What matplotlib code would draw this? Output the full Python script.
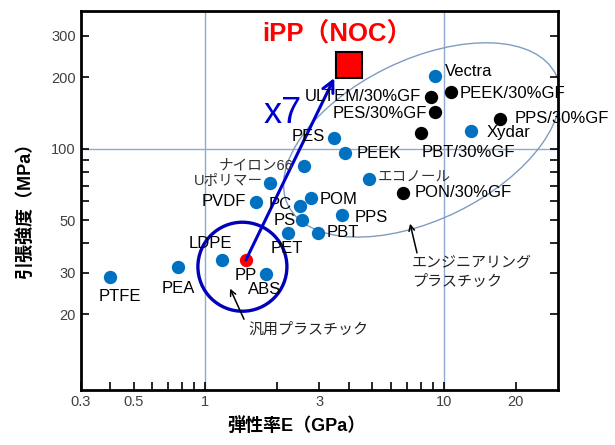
import matplotlib
matplotlib.use("Agg")
import matplotlib.pyplot as plt
from matplotlib.patches import Ellipse
from matplotlib.ticker import NullFormatter
from matplotlib.transforms import ScaledTranslation

plt.rcParams['font.family'] = ['Liberation Sans', 'Noto Sans CJK JP', 'DejaVu Sans']

# --- data: modulus E (GPa) and tensile strength (MPa) ---
blue_names = ["PTFE", "PEA", "LDPE", "ABS", "PET", "PS", "PC", "POM", "PVDF",
              "Uポリマー", "ナイロン66", "PES", "PEEK", "エコノール", "PPS", "PBT",
              "Vectra", "Xydar"]
blue_E = [0.40, 0.77, 1.18, 1.80, 2.22, 2.55, 2.50, 2.78, 1.63,
          1.87, 2.60, 3.47, 3.85, 4.86, 3.74, 2.97, 9.17, 12.97]
blue_S = [28.8, 31.8, 34.0, 29.7, 44.2, 50.0, 57.5, 62.0, 59.7,
          71.9, 84.8, 111, 96, 74.7, 52.7, 44.2, 203, 119]

gf_names = ["ULTEM/30%GF", "PEEK/30%GF", "PES/30%GF", "PPS/30%GF", "PBT/30%GF", "PON/30%GF"]
gf_E = [8.82, 10.7, 9.17, 17.1, 8.01, 6.74]
gf_S = [166, 174, 143, 134, 117, 65.2]

pp_E, pp_S = 1.48, 34.0
noc_E, noc_S = 4.0, 226.0

x_ticks = [0.3, 0.5, 1, 3, 10, 20]
x_labels = ["0.3", "0.5", "1", "3", "10", "20"]
x_minor = [0.4, 0.6, 0.7, 0.8, 0.9, 2, 4, 5, 6, 7, 8, 9]
y_ticks = [20, 30, 50, 100, 200, 300]
y_labels = ["20", "30", "50", "100", "200", "300"]
y_minor = [40, 60, 70, 80, 90]

# label placement: (dx, dy) in points, horizontal alignment
label_pos = {
    "PTFE": (7, -14, "center"), "PEA": (0, -16, "center"), "LDPE": (-9, 12, "center"),
    "ABS": (-1, -11, "center"), "PET": (-1, -11, "center"), "PS": (-5, 0, "right"),
    "PC": (-6, 1, "right"), "POM": (6, -1, "left"), "PVDF": (-7, 0, "right"),
    "Uポリマー": (-5, 1, "right"), "ナイロン66": (-8, 0, "right"), "PES": (-7, 1, "right"),
    "PEEK": (8, 0, "left"), "エコノール": (6, 1, "left"), "PPS": (9, -2, "left"),
    "PBT": (6, 0, "left"), "Vectra": (7, 3, "left"), "Xydar": (11, -1, "left"),
    "ULTEM/30%GF": (-7, 0, "right"), "PEEK/30%GF": (6, -1, "left"),
    "PES/30%GF": (-6, -1, "right"), "PPS/30%GF": (11, 0, "left"),
    "PBT/30%GF": (34, -14, "center"), "PON/30%GF": (8, 0, "left"),
}

fig = plt.figure(figsize=(6.15, 4.45), dpi=100)
ax = fig.add_axes([0.131, 0.1236, 0.776, 0.852])
ax.set_xscale("log")
ax.set_yscale("log")
ax.set_xlim(0.3, 30)
ax.set_ylim(9.6, 382)

# grid lines
for gx in [1, 10]:
    ax.axvline(gx, color="#8eaad2", lw=1, zorder=0)
ax.axhline(100, color="#8eaad2", lw=1, zorder=0)

# engineering plastics ellipse / commodity plastics circle (sized in inches)
ell_trans = fig.dpi_scale_trans + ScaledTranslation(8.09, 109, ax.transData)
ax.add_patch(Ellipse((0, 0), 2.98, 1.60, angle=26, transform=ell_trans,
                     fill=False, ec="#7f9cc2", lw=1, zorder=1))
circ_trans = fig.dpi_scale_trans + ScaledTranslation(1.43, 31.8, ax.transData)
ax.add_patch(Ellipse((0, 0), 0.89, 0.89, transform=circ_trans,
                     fill=False, ec="#0000bb", lw=2.4, zorder=2))

ax.scatter(blue_E, blue_S, s=92, color="#0070c0", zorder=3, linewidths=0)
ax.scatter(gf_E, gf_S, s=92, color="black", zorder=3, linewidths=0)
ax.scatter([pp_E], [pp_S], s=92, color="red", zorder=4, linewidths=0)

for name, e, s in list(zip(blue_names, blue_E, blue_S)) + list(zip(gf_names, gf_E, gf_S)):
    dx, dy, ha = label_pos[name]
    ax.annotate(name, (e, s), xytext=(dx, dy), textcoords="offset points",
                ha=ha, va="center", fontsize=12 if name.isascii() else 10.5,
                color="black" if name.isascii() else "#333333", zorder=5)
ax.annotate("PP", (pp_E, pp_S), xytext=(0, -11.5), textcoords="offset points",
            ha="center", va="center", fontsize=12, zorder=5)

# arrow PP -> iPP(NOC)
ax.annotate("", xy=(3.47, 199), xytext=(pp_E, pp_S),
            arrowprops=dict(arrowstyle="->", color="#0000cc", lw=2.2,
                            mutation_scale=20, shrinkA=0, shrinkB=0), zorder=4)
ax.plot([noc_E], [noc_S], marker="s", ms=19, mfc="red", mec="black", mew=1.5, zorder=6)
ax.text(0.538, 0.942, "iPP（NOC）", transform=ax.transAxes, color="red",
        fontsize=18.5, fontweight="bold", ha="center", va="center")
ax.text(0.4226, 0.728, "x7", transform=ax.transAxes, color="#0000cc",
        fontsize=26, ha="center", va="center")

# group annotations
ax.annotate("", xy=(1.27, 25.7), xytext=(10, -22), textcoords="offset points",
            arrowprops=dict(arrowstyle="->", color="black", lw=1.1, shrinkA=0, shrinkB=0))
ax.annotate("汎用プラスチック", (1.27, 25.7), xytext=(13.5, -29.5), textcoords="offset points",
            ha="left", va="center", fontsize=10.8, color="#222222")
ax.annotate("", xy=(7.21, 48.3), xytext=(5, -21), textcoords="offset points",
            arrowprops=dict(arrowstyle="->", color="black", lw=1.1, shrinkA=0, shrinkB=0))
ax.annotate("エンジニアリング\nプラスチック", (7.21, 48.3), xytext=(1.4, -35),
            textcoords="offset points", ha="left", va="center", fontsize=10.8,
            color="#222222", linespacing=1.4)

# axes styling
ax.set_xticks(x_ticks, labels=x_labels)
ax.set_xticks(x_minor, minor=True)
ax.set_yticks(y_ticks, labels=y_labels)
ax.set_yticks(y_minor, minor=True)
ax.xaxis.set_minor_formatter(NullFormatter())
ax.yaxis.set_minor_formatter(NullFormatter())
ax.tick_params(which="both", direction="in", length=6, width=1.2,
               left=True, right=True, top=False, bottom=True,
               labelsize=10.5, labelcolor="#404040")
for sp in ax.spines.values():
    sp.set_linewidth(2)

ax.set_xlabel("弾性率E（GPa）", fontsize=13, fontweight="bold")
ax.xaxis.set_label_coords(0.452, -0.07)
ax.set_ylabel("引張強度（MPa）", fontsize=13, fontweight="bold")
ax.yaxis.set_label_coords(-0.098, 0.483)

fig.savefig("out.png", dpi=100)
